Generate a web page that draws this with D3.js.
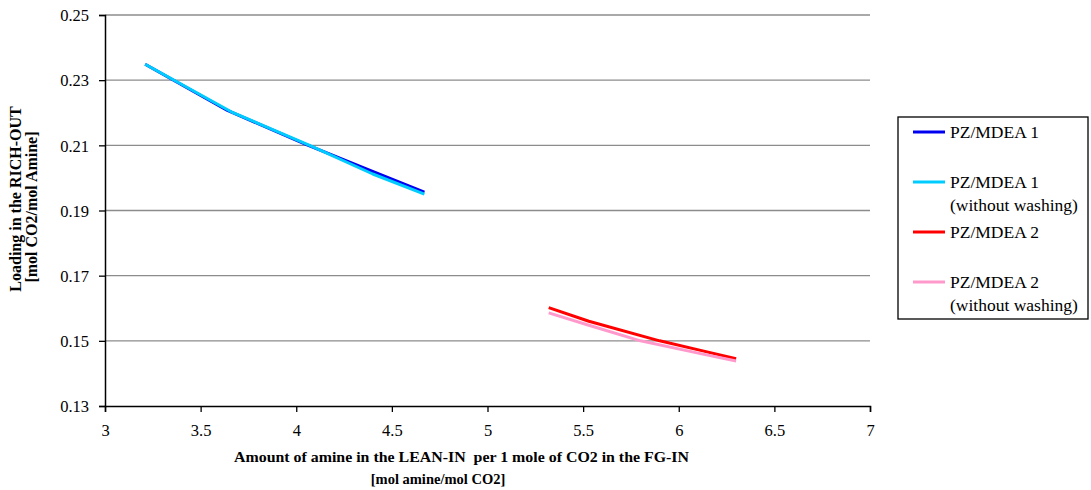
<!DOCTYPE html>
<html>
<head>
<meta charset="utf-8">
<script src="https://cdn.jsdelivr.net/npm/d3@7"></script>
<style>
  html, body { margin: 0; padding: 0; background: #fff; }
  svg { display: block; }
  svg text { font-family: "Liberation Serif", "Times New Roman", serif; fill: #000; }
</style>
</head>
<body>
<svg id="chart" width="1091" height="490"></svg>
<script>
// Amine amount in LEAN-IN per mole CO2 in FG-IN [mol amine/mol CO2] vs. RICH-OUT loading
const pz1X      = [3.21, 3.64, 4.05, 4.37, 4.67];
const pz1Y      = [0.2349, 0.2207, 0.2103, 0.2027, 0.1956];
const pz1nwX    = [3.21, 3.66, 4.07, 4.40, 4.67];
const pz1nwY    = [0.2349, 0.2203, 0.2100, 0.2012, 0.1950];
const pz2X      = [5.32, 5.53, 5.90, 6.12, 6.30];
const pz2Y      = [0.1602, 0.1560, 0.1500, 0.1470, 0.1445];
const pz2nwX    = [5.32, 5.53, 5.80, 6.12, 6.30];
const pz2nwY    = [0.1586, 0.1548, 0.1500, 0.1460, 0.1438];

const seriesNames  = ["PZ/MDEA 1", "PZ/MDEA 1\n(without washing)", "PZ/MDEA 2", "PZ/MDEA 2\n(without washing)"];
const seriesColors = ["#0000f0", "#00ccff", "#ff0000", "#ff99cc"];

const xTicks = [3, 3.5, 4, 4.5, 5, 5.5, 6, 6.5, 7];
const yTicks = [0.13, 0.15, 0.17, 0.19, 0.21, 0.23, 0.25];

const series = [
  { xs: pz1X,   ys: pz1Y },
  { xs: pz1nwX, ys: pz1nwY },
  { xs: pz2X,   ys: pz2Y },
  { xs: pz2nwX, ys: pz2nwY }
].map((s, i) => ({
  name: seriesNames[i],
  color: seriesColors[i],
  points: s.xs.map((x, j) => ({ x, y: s.ys[j] }))
}));

const svg = d3.select("#chart");
const plot = { left: 105, right: 870, top: 15, bottom: 406 };

const x = d3.scaleLinear().domain([3, 7]).range([plot.left, plot.right]);
const y = d3.scaleLinear().domain([0.13, 0.25]).range([plot.bottom, plot.top]);

// horizontal gridlines
svg.append("g")
  .selectAll("line")
  .data(yTicks.filter(t => t > 0.13))
  .join("line")
  .attr("x1", plot.left).attr("x2", plot.right)
  .attr("y1", d => y(d)).attr("y2", d => y(d))
  .attr("stroke", "#8c8c8c").attr("stroke-width", 1.3);

// axes
const xAxis = svg.append("g")
  .attr("transform", `translate(0,${plot.bottom})`)
  .call(d3.axisBottom(x).tickValues(xTicks).tickFormat(d3.format("")).tickSizeOuter(0).tickSize(6).tickPadding(12));
const yAxis = svg.append("g")
  .attr("transform", `translate(${plot.left},0)`)
  .call(d3.axisLeft(y).tickValues(yTicks).tickFormat(d3.format(".2f")).tickSizeOuter(0).tickSize(6).tickPadding(10));

[xAxis, yAxis].forEach(a => {
  a.attr("font-family", null).attr("font-size", null);
  a.select(".domain").attr("stroke", "#000").attr("stroke-width", 1.5);
  a.selectAll(".tick line").attr("stroke", "#000").attr("stroke-width", 1.3);
  a.selectAll(".tick text")
    .attr("fill", "#000")
    .attr("font-family", "Liberation Serif")
    .attr("font-size", 16.5);
});
yAxis.selectAll(".tick text").attr("dy", "0.35em");

// series lines
const line = d3.line().x(d => x(d.x)).y(d => y(d.y));
svg.append("g")
  .selectAll("path")
  .data(series)
  .join("path")
  .attr("d", d => line(d.points))
  .attr("fill", "none")
  .attr("stroke", d => d.color)
  .attr("stroke-width", 3)
  .attr("stroke-linejoin", "round");

// axis titles
const xTitle = svg.append("g")
  .attr("font-weight", "bold")
  .attr("font-size", 14.5)
  .attr("text-anchor", "middle");
xTitle.append("text")
  .attr("x", 461.5).attr("y", 462)
  .attr("textLength", 455).attr("lengthAdjust", "spacingAndGlyphs")
  .attr("xml:space", "preserve")
  .text("Amount of amine in the LEAN-IN  per 1 mole of CO2 in the FG-IN");
xTitle.append("text")
  .attr("x", 438).attr("y", 484)
  .text("[mol amine/mol CO2]");

const yTitle = svg.append("g")
  .attr("font-weight", "bold")
  .attr("font-size", 16)
  .attr("text-anchor", "middle");
yTitle.append("text")
  .attr("transform", "translate(21,199) rotate(-90)")
  .text("Loading in the RICH-OUT");
yTitle.append("text")
  .attr("transform", "translate(37,207) rotate(-90)")
  .text("[mol CO2/mol Amine]");

// legend
const legend = svg.append("g");
legend.append("rect")
  .attr("x", 898).attr("y", 117)
  .attr("width", 190).attr("height", 202)
  .attr("fill", "#fff").attr("stroke", "#000").attr("stroke-width", 1.3);

const legendRowY = [132, 182, 232, 282];
const items = legend.selectAll("g.item")
  .data(series)
  .join("g")
  .attr("class", "item")
  .attr("transform", (d, i) => `translate(0,${legendRowY[i]})`);
items.append("line")
  .attr("x1", 913).attr("x2", 945)
  .attr("y1", 0).attr("y2", 0)
  .attr("stroke", d => d.color).attr("stroke-width", 3);
items.append("text")
  .attr("font-size", 17.5)
  .selectAll("tspan")
  .data(d => d.name.split("\n"))
  .join("tspan")
  .attr("x", 950)
  .attr("y", (d, i) => 6 + i * 22.5)
  .text(d => d);
</script>
</body>
</html>
